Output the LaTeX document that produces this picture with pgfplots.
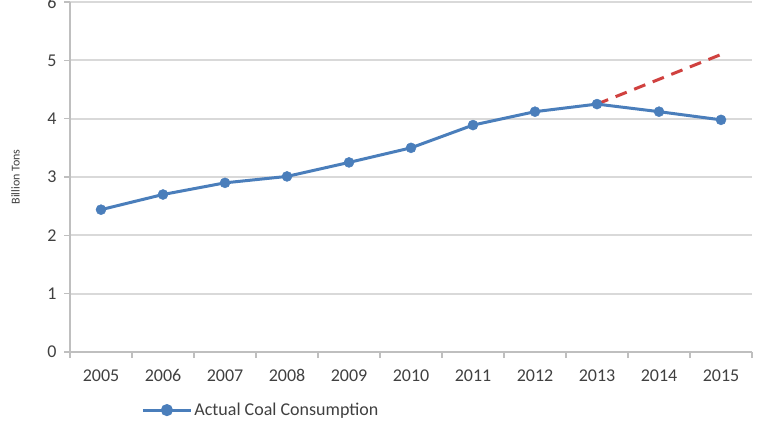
\documentclass[border=0pt]{standalone}
\usepackage{pgfplots}
\pgfplotsset{compat=1.18}
\usepackage{fontspec}
\setmainfont{Carlito}
\definecolor{lineblue}{HTML}{4A7EBB}
\definecolor{dashred}{HTML}{D0413F}
\definecolor{gridgrey}{HTML}{D9D9D9}
\definecolor{axisgrey}{HTML}{BFBFBF}
\definecolor{txt}{HTML}{404040}
\begin{document}
\begin{tikzpicture}[x=1pt,y=1pt]
\useasboundingbox (0,0) rectangle (768,432);
\begin{axis}[
  at={(70pt,80pt)}, anchor=south west,
  scale only axis, width=682pt, height=350pt,
  xmin=-0.5, xmax=10.5, ymin=0, ymax=6,
  ytick={0,1,2,3,4,5,6},
  xtick={-0.5,0.5,...,10.5}, xticklabels={},
  extra x ticks={0,1,...,10},
  extra x tick labels={2005,2006,2007,2008,2009,2010,2011,2012,2013,2014,2015},
  extra x tick style={major tick length=0pt, grid=none},
  tick align=outside, major tick length=6pt,
  tick style={axisgrey, line width=1.2pt},
  axis x line*=bottom, axis y line*=left,
  axis line style={axisgrey, line width=1.5pt, -},
  ymajorgrids, grid style={gridgrey, line width=2pt},
  /pgf/number format/assume math mode=true,
  tick label style={font=\fontsize{18}{20}\selectfont, text=txt},
  xticklabel style={yshift=-14pt},
  yticklabel style={xshift=-4pt},
  ylabel={Billion Tons},
  ylabel style={at={(axis description cs:-0.08,0.5)}, anchor=center, font=\fontsize{12}{14}\selectfont, text=txt},
  clip=false,
  legend style={at={(axis description cs:0.1,-0.166)}, anchor=west, draw=none, fill=none, font=\fontsize{18}{20}\selectfont, text=txt, legend cell align=left},
  legend image code/.code={\draw[#1] (0pt,0pt) -- (48pt,0pt); \fill[lineblue] (24pt,0pt) circle (4.5pt);},
]
\addplot[dashred, line width=3pt, dash pattern=on 12pt off 8pt, forget plot] coordinates {(8,4.25) (10,5.1)};
\addplot[lineblue, line width=3pt, mark=*, mark size=5pt, mark options={fill=lineblue, draw=lineblue, line width=0.5pt}] coordinates {
(0,2.44) (1,2.70) (2,2.90) (3,3.01) (4,3.25) (5,3.50) (6,3.89) (7,4.12) (8,4.25) (9,4.12) (10,3.98)};
\addlegendentry{Actual Coal Consumption}
\end{axis}
\end{tikzpicture}
\end{document}
